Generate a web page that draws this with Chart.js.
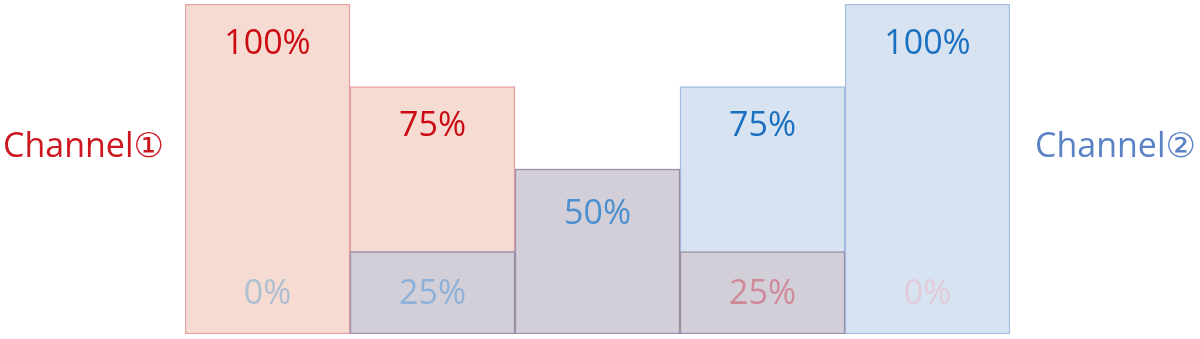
<!DOCTYPE html>
<html>
<head>
<meta charset="utf-8">
<script src="https://cdn.jsdelivr.net/npm/chart.js@4/dist/chart.umd.min.js"></script>
<style>
html,body{margin:0;padding:0;background:#fff;}
#wrap{width:1200px;height:339px;position:relative;}
</style>
</head>
<body>
<div id="wrap"><canvas id="c" width="1200" height="339"></canvas></div>
<script>
const categories = ["A", "B", "C", "D", "E"];
const channel1 = [100, 75, 50, 25, 0];
const channel2 = [0, 25, 50, 75, 100];
const topLabels = ["100%", "75%", "50%", "75%", "100%"];
const bottomLabels = ["0%", "25%", "", "25%", "0%"];
const seriesNames = ["Channel\u2460", "Channel\u2461"];

const overlap = channel1.map((v, i) => Math.min(v, channel2[i]));
const topColors = ["#cc0a14", "#cc0a14", "#4a90d0", "#1a70c0", "#1a70c0"];
const bottomColors = ["#adbfd2", "#8db1d9", "#000", "#cf8a9a", "#e2cbd9"];

const labelPlugin = {
  id: 'labels',
  afterDatasetsDraw(chart) {
    const ctx = chart.ctx;
    const xs = chart.scales.x, ys = chart.scales.y;
    ctx.save();
    ctx.textAlign = 'center';
    ctx.textBaseline = 'middle';
    ctx.font = '34px "Open Sans", sans-serif';
    categories.forEach((c, i) => {
      const x = xs.getPixelForValue(i);
      const hi = Math.max(channel1[i], channel2[i]);
      const yTop = ys.getPixelForValue(hi);
      ctx.fillStyle = topColors[i];
      const off = (channel1[i] === channel2[i]) ? 45 : 40;
      ctx.fillText(topLabels[i], x, yTop + off);
      if (bottomLabels[i]) {
        ctx.fillStyle = bottomColors[i];
        ctx.fillText(bottomLabels[i], x, ys.getPixelForValue(0) - 40);
      }
    });
    ctx.font = '34px "Open Sans", "DejaVu Sans", sans-serif';
    ctx.textBaseline = 'alphabetic';
    ctx.textAlign = 'left';
    ctx.fillStyle = '#cc1620';
    ctx.fillText(seriesNames[0], 3, 157);
    ctx.fillStyle = '#5a82c4';
    ctx.fillText(seriesNames[1], 1035, 157);
    ctx.restore();
  }
};

new Chart(document.getElementById('c'), {
  type: 'bar',
  data: {
    labels: categories,
    datasets: [
      { label: seriesNames[0], data: channel1, backgroundColor: '#f5dbd1', borderColor: '#e8a0a3', borderWidth: 1.5, borderSkipped: false, order: 3, grouped: false },
      { label: seriesNames[1], data: channel2, backgroundColor: '#d8e3f1', borderColor: '#a3bde0', borderWidth: 1.5, borderSkipped: false, order: 2, grouped: false },
      { label: 'overlap', data: overlap, backgroundColor: '#d3cfd8', borderColor: '#9c8ea6', borderWidth: 1.5, borderSkipped: false, order: 1, grouped: false }
    ]
  },
  options: {
    responsive: false,
    animation: false,
    devicePixelRatio: 1,
    layout: { padding: { left: 185, right: 190, top: 4, bottom: 5 } },
    datasets: { bar: { barPercentage: 1, categoryPercentage: 1 } },
    plugins: { legend: { display: false }, tooltip: { enabled: false } },
    scales: {
      x: { display: false },
      y: { display: false, min: 0, max: 100 }
    }
  },
  plugins: [labelPlugin]
});
</script>
</body>
</html>
